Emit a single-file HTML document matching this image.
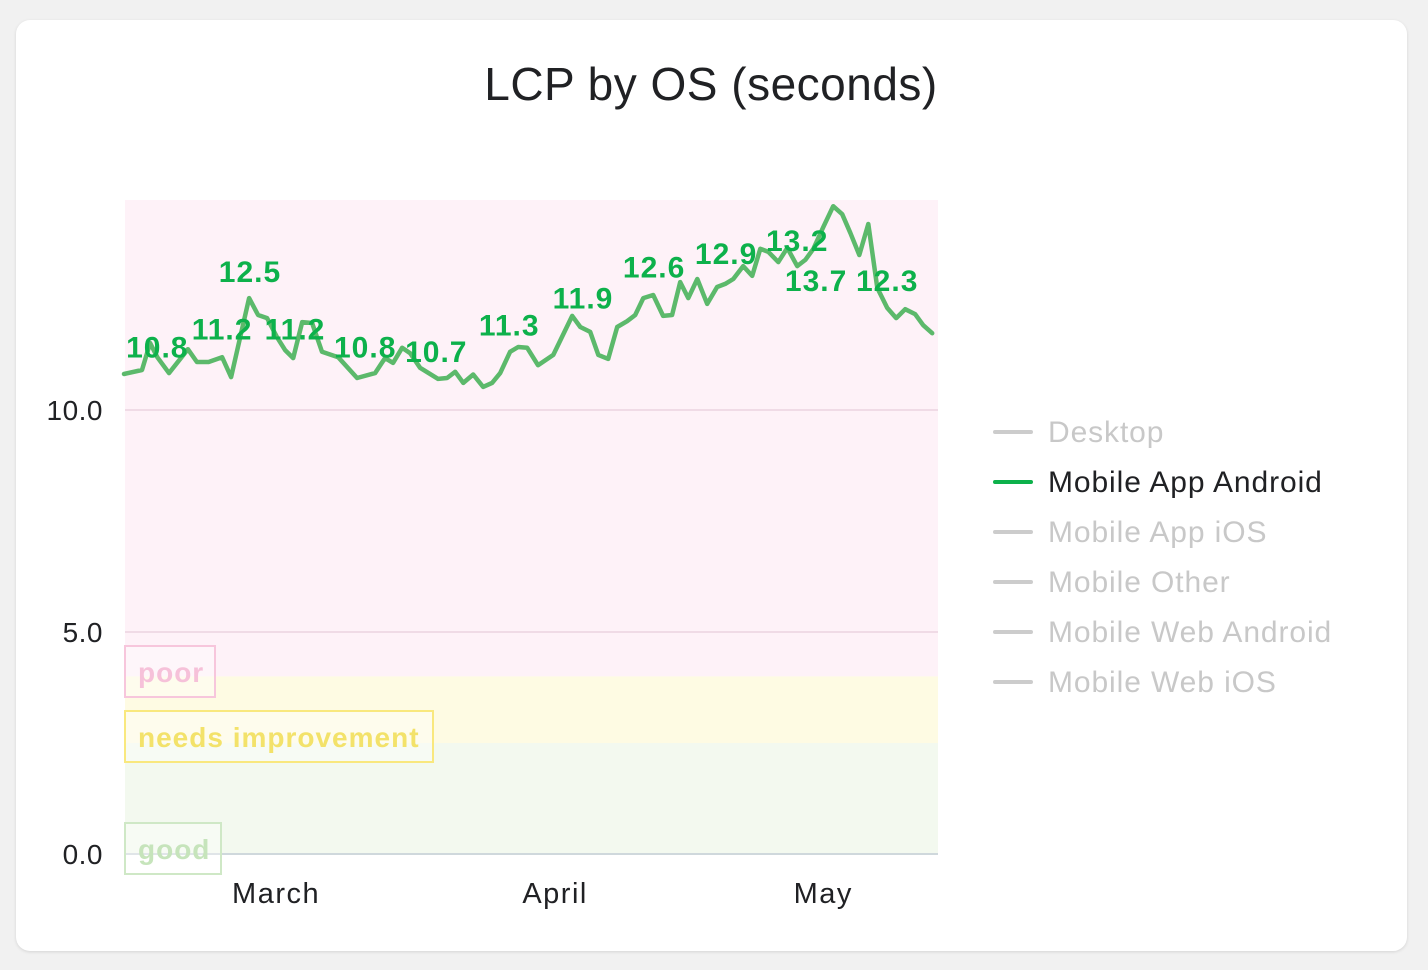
<!DOCTYPE html>
<html><head><meta charset="utf-8"><style>
html,body{margin:0;padding:0;width:1428px;height:970px;background:#f1f1f1;overflow:hidden;font-family:"Liberation Sans",Arial,sans-serif}
#card{position:absolute;left:16px;top:20px;width:1391px;height:931px;background:#fff;border-radius:14px;box-shadow:0 1px 3px rgba(0,0,0,.12)}
svg{position:absolute;left:0;top:0}
</style></head><body>
<div id="card"></div>
<svg id="chart" width="1428" height="970"></svg>
<script>
const days=[0,2,2.9,3.7,5,6.4,7.1,8.1,9.4,10.9,11.9,13.9,14.9,15.9,17,17.9,18.8,19.8,20.9,22,23.8,25.9,27.9,29,29.9,30.9,31.8,32.9,34.9,35.9,36.8,37.7,38.8,39.9,40.9,41.8,42.9,43.8,44.8,46,47.7,49.8,50.7,51.8,52.7,53.8,54.8,55.9,56.8,57.7,58.8,59.9,60.9,61.8,62.7,63.7,64.8,65.9,66.8,67.7,68.8,69.8,70.7,71.6,72.7,73.7,74.8,75.7,76.6,77.7,78.8,79.8,80.7,81.7,82.7,83.7,84.8,85.8,86.8,87.9,88.8,89.8];
const values=[10.81,10.90,11.51,11.19,10.83,11.19,11.37,11.08,11.08,11.19,10.74,12.52,12.14,12.07,11.64,11.35,11.17,11.98,11.96,11.31,11.19,10.72,10.83,11.17,11.06,11.40,11.28,10.95,10.70,10.72,10.86,10.61,10.80,10.52,10.61,10.83,11.31,11.42,11.40,11.01,11.24,12.12,11.87,11.76,11.24,11.15,11.87,12.00,12.14,12.52,12.59,12.12,12.14,12.88,12.52,12.95,12.39,12.77,12.84,12.95,13.24,13.02,13.63,13.56,13.33,13.65,13.24,13.38,13.63,14.12,14.59,14.41,13.99,13.49,14.19,12.75,12.30,12.07,12.27,12.16,11.91,11.73];
const labelText=["10.8","11.2","12.5","11.2","10.8","10.7","11.3","11.9","12.6","12.9","13.2","13.7","12.3"];
const labelDay=[3.7,10.9,14,19,26.8,34.7,42.8,51,58.9,66.9,74.8,76.9,84.8];
const labelValue=[10.8,11.2,12.5,11.2,10.8,10.7,11.3,11.9,12.6,12.9,13.2,12.3,12.3];
const yTicks=[0,5,10];
const yTickLabels=["0.0","5.0","10.0"];
const xTickLabels=["March","April","May"];
const xTickDay=[16.9,47.9,77.7];
const legendNames=["Desktop","Mobile App Android","Mobile App iOS","Mobile Other","Mobile Web Android","Mobile Web iOS"];
const legendActive=[false,true,false,false,false,false];

const svg=document.getElementById('chart');
const NS='http://www.w3.org/2000/svg';
const X0=125,X1=938,Y0=854,PX=44.4;
const sx=dd=>124+dd*9;
const sy=v=>Y0-v*PX;
function mk(t,a,p){const e=document.createElementNS(NS,t);for(const k in a)e.setAttribute(k,a[k]);(p||svg).appendChild(e);return e;}

let t=mk('text',{x:711,y:100,'text-anchor':'middle','font-size':46,'letter-spacing':0.5,fill:'#202124'});t.textContent='LCP by OS (seconds)';



let r=mk('rect',{x:X0,y:200,width:X1-X0,height:sy(4)-200,fill:'#fef2f8'});


r=mk('rect',{x:X0,y:sy(4),width:X1-X0,height:sy(2.5)-sy(4),fill:'#fefbe3'});


r=mk('rect',{x:X0,y:sy(2.5),width:X1-X0,height:Y0-sy(2.5),fill:'#f3f9ef'});



yTicks.forEach((v,i)=>{
  const l=mk('line',{x1:X0,x2:X1,y1:sy(v),y2:sy(v),stroke:v===0?'#cfd8dc':'#f0dbe6','stroke-width':2});
  
  
  const tx=mk('text',{x:103,y:sy(v)+10,'text-anchor':'end','font-size':28,'letter-spacing':0.5,fill:'#202124'});tx.textContent=yTickLabels[i];
  
  
});
xTickLabels.forEach((s,i)=>{
  const tx=mk('text',{x:sx(xTickDay[i]),y:903,'text-anchor':'middle','font-size':29,'letter-spacing':1.5,fill:'#202124'});tx.textContent=s;
  
  
});

const boxes=[["poor",646,90,'#f7c6dc','#f6c1d9'],["needs improvement",711,308,'#f9e87e','#f3e26a'],["good",823,96,'#cfe8c6','#c6e4bb']];
boxes.forEach(b=>{
  const g=mk('g',{});
  
  
  mk('rect',{x:125,y:b[1],width:b[2],height:51,fill:'rgba(255,255,255,0.35)',stroke:b[3],'stroke-width':2},g);
  const tx=mk('text',{x:138,y:b[1]+36,'font-size':28,'font-weight':'bold','letter-spacing':1,fill:b[4]},g);tx.textContent=b[0];
});

const d=values.map((v,i)=>(i?'L':'M')+sx(days[i]).toFixed(1)+','+sy(v).toFixed(1)).join(' ');
const p=mk('path',{d:d,fill:'none',stroke:'#5cb96b','stroke-width':4.5,'stroke-linejoin':'round','stroke-linecap':'round'});



labelText.forEach((s,i)=>{
  const tx=mk('text',{x:sx(labelDay[i]),y:sy(labelValue[i])-17,'text-anchor':'middle','font-size':30,'font-weight':'bold','letter-spacing':1,fill:'#0db14b'});tx.textContent=s;
  
  
});

legendNames.forEach((n,i)=>{
  const y=432+i*50;
  const g=mk('g',{});
  
  
  mk('line',{x1:995,x2:1031,y1:y,y2:y,stroke:legendActive[i]?'#0db14b':'#cccccc','stroke-width':4,'stroke-linecap':'round'},g);
  const tx=mk('text',{x:1048,y:y+10,'font-size':30,'letter-spacing':0.9,fill:legendActive[i]?'#202124':'#c8c8c8'},g);tx.textContent=n;
});
</script>
</body></html>
